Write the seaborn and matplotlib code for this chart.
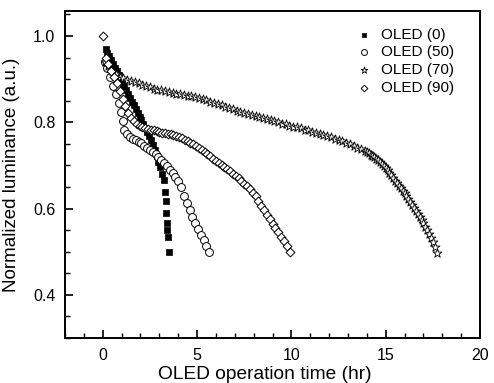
import matplotlib
matplotlib.use("Agg")
import matplotlib.pyplot as plt
import seaborn as sns
import numpy as np
from matplotlib.ticker import MultipleLocator

# OLED (0) - filled squares
t_0 = [0.15, 0.25, 0.35, 0.45, 0.55, 0.65, 0.75, 0.85, 0.95, 1.05,
       1.15, 1.25, 1.35, 1.45, 1.55, 1.65, 1.75, 1.85, 1.95, 2.05,
       2.15, 2.25, 2.35, 2.45, 2.55, 2.65, 2.75, 2.85, 2.95, 3.05,
       3.15, 3.25, 3.30, 3.33, 3.36, 3.40, 3.42, 3.45, 3.50]
lum_0 = [0.970, 0.961, 0.953, 0.944, 0.935, 0.927, 0.918, 0.909, 0.900, 0.892,
         0.883, 0.874, 0.866, 0.857, 0.848, 0.840, 0.831, 0.822, 0.813, 0.805,
         0.796, 0.787, 0.778, 0.769, 0.760, 0.748, 0.735, 0.722, 0.709, 0.696,
         0.680, 0.666, 0.638, 0.617, 0.589, 0.566, 0.550, 0.534, 0.500]

# OLED (50) - open circles
t_50 = [0.10, 0.25, 0.40, 0.55, 0.70, 0.85, 0.95, 1.05, 1.15, 1.30,
        1.45, 1.60, 1.75, 1.90, 2.05, 2.20, 2.35, 2.50, 2.65, 2.80,
        2.95, 3.10, 3.25, 3.40, 3.55, 3.70, 3.85, 4.00, 4.15, 4.30,
        4.45, 4.60, 4.75, 4.90, 5.05, 5.20, 5.35, 5.50, 5.65]
lum_50 = [0.940, 0.925, 0.905, 0.885, 0.865, 0.845, 0.825, 0.802, 0.782, 0.772,
          0.766, 0.762, 0.758, 0.755, 0.751, 0.746, 0.741, 0.736, 0.731, 0.726,
          0.720, 0.713, 0.706, 0.698, 0.690, 0.682, 0.673, 0.664, 0.650, 0.630,
          0.612, 0.596, 0.580, 0.566, 0.552, 0.539, 0.526, 0.513, 0.500]

# OLED (70) - open stars
t_70 = [0.1, 0.3, 0.5, 0.7, 0.9, 1.1, 1.3, 1.5, 1.7, 1.9,
        2.1, 2.3, 2.5, 2.7, 2.9, 3.1, 3.3, 3.5, 3.7, 3.9,
        4.1, 4.3, 4.5, 4.7, 4.9, 5.1, 5.3, 5.5, 5.7, 5.9,
        6.1, 6.3, 6.5, 6.7, 6.9, 7.1, 7.3, 7.5, 7.7, 7.9,
        8.1, 8.3, 8.5, 8.7, 8.9, 9.1, 9.3, 9.5, 9.7, 9.9,
        10.1, 10.3, 10.5, 10.7, 10.9, 11.1, 11.3, 11.5, 11.7, 11.9,
        12.1, 12.3, 12.5, 12.7, 12.9, 13.1, 13.3, 13.5, 13.7, 13.9,
        14.0, 14.1, 14.2, 14.3, 14.4, 14.5, 14.6, 14.7, 14.8, 14.9,
        15.0, 15.1, 15.2, 15.3, 15.4, 15.5, 15.6, 15.7, 15.8, 15.9,
        16.0, 16.1, 16.2, 16.3, 16.4, 16.5, 16.6, 16.7, 16.8, 16.9,
        17.0, 17.1, 17.2, 17.3, 17.4, 17.5, 17.6, 17.7]
lum_70 = [0.940, 0.930, 0.920, 0.912, 0.906, 0.902, 0.899, 0.896, 0.893, 0.890,
          0.887, 0.884, 0.881, 0.878, 0.876, 0.874, 0.872, 0.870, 0.868, 0.866,
          0.865, 0.863, 0.862, 0.860, 0.858, 0.856, 0.854, 0.851, 0.848, 0.845,
          0.842, 0.839, 0.836, 0.833, 0.830, 0.827, 0.824, 0.822, 0.820, 0.817,
          0.815, 0.812, 0.810, 0.807, 0.805, 0.802, 0.800, 0.797, 0.795, 0.792,
          0.790, 0.788, 0.786, 0.783, 0.781, 0.778, 0.776, 0.773, 0.771, 0.768,
          0.765, 0.762, 0.759, 0.756, 0.752, 0.749, 0.745, 0.741, 0.737, 0.733,
          0.731, 0.728, 0.725, 0.722, 0.719, 0.716, 0.712, 0.708, 0.704, 0.699,
          0.694, 0.689, 0.683, 0.677, 0.671, 0.665, 0.659, 0.653, 0.647, 0.641,
          0.635, 0.629, 0.622, 0.616, 0.609, 0.602, 0.595, 0.588, 0.581, 0.574,
          0.566, 0.558, 0.550, 0.541, 0.532, 0.522, 0.511, 0.498]

# OLED (90) - open diamonds
t_90 = [0.00, 0.15, 0.30, 0.45, 0.60, 0.75, 0.90, 1.05, 1.20, 1.35,
        1.50, 1.65, 1.80, 1.95, 2.10, 2.25, 2.40, 2.55, 2.70, 2.85,
        3.00, 3.15, 3.30, 3.45, 3.60, 3.75, 3.90, 4.05, 4.20, 4.35,
        4.50, 4.65, 4.80, 4.95, 5.10, 5.25, 5.40, 5.55, 5.70, 5.85,
        6.00, 6.15, 6.30, 6.45, 6.60, 6.75, 6.90, 7.05, 7.20, 7.35,
        7.50, 7.65, 7.80, 7.95, 8.10, 8.25, 8.40, 8.55, 8.70, 8.85,
        9.00, 9.15, 9.30, 9.45, 9.60, 9.75, 9.95]
lum_90 = [1.000, 0.950, 0.935, 0.920, 0.905, 0.890, 0.872, 0.855, 0.838, 0.822,
          0.810, 0.802, 0.796, 0.792, 0.789, 0.787, 0.785, 0.783, 0.781, 0.779,
          0.778, 0.776, 0.775, 0.773, 0.772, 0.770, 0.768, 0.766, 0.763, 0.760,
          0.757, 0.753, 0.749, 0.745, 0.741, 0.736, 0.731, 0.726, 0.721, 0.716,
          0.711, 0.706, 0.701, 0.696, 0.691, 0.686, 0.681, 0.676, 0.670, 0.664,
          0.658, 0.652, 0.645, 0.637, 0.628, 0.618, 0.607, 0.596, 0.586, 0.575,
          0.565, 0.555, 0.545, 0.535, 0.525, 0.514, 0.500]

series_labels = ["OLED (0)", "OLED (50)", "OLED (70)", "OLED (90)"]

#%%
sns.set_style("ticks")
plt.rcParams['font.family'] = ['Liberation Sans', 'DejaVu Sans']
plt.rcParams['text.color'] = 'black'
plt.rcParams['axes.labelcolor'] = 'black'
plt.rcParams['xtick.color'] = 'black'
plt.rcParams['ytick.color'] = 'black'

fig = plt.figure(figsize=(4.94, 3.83), dpi=100)
ax = fig.add_axes([0.1316, 0.1175, 0.8401, 0.8538])

sns.scatterplot(x=t_0, y=lum_0, marker='s', s=22, color='black',
                edgecolor='black', linewidth=0.5, label=series_labels[0], ax=ax)
sns.scatterplot(x=t_50, y=lum_50, marker='o', s=32, facecolor='white',
                edgecolor='black', linewidth=0.7, label=series_labels[1], ax=ax)
sns.scatterplot(x=t_70, y=lum_70, marker='*', s=45, facecolor='white',
                edgecolor='black', linewidth=0.6, label=series_labels[2], ax=ax)
sns.scatterplot(x=t_90, y=lum_90, marker='D', s=20, facecolor='white',
                edgecolor='black', linewidth=0.7, label=series_labels[3], ax=ax)

ax.set_xlim(-2, 20)
ax.set_ylim(0.3, 1.058)
ax.xaxis.set_major_locator(MultipleLocator(5))
ax.xaxis.set_minor_locator(MultipleLocator(1))
ax.yaxis.set_major_locator(MultipleLocator(0.2))
ax.yaxis.set_minor_locator(MultipleLocator(0.05))
ax.set_yticks([0.4, 0.6, 0.8, 1.0])
ax.set_yticklabels(['0.4', '0.6', '0.8', '1.0'])
ax.tick_params(which='both', direction='in', top=False, right=False,
               color='black', labelcolor='black', labelsize=11.5)
ax.tick_params(which='major', length=6, width=1.2, pad=7)
ax.tick_params(which='minor', length=3.5, width=1.0)
for sp in ax.spines.values():
    sp.set_linewidth(1.4)
    sp.set_color('black')

ax.set_xlabel('OLED operation time (hr)', fontsize=13.8)
ax.set_ylabel('Normalized luminance (a.u.)', fontsize=13.5)
ax.xaxis.set_label_coords(0.481, -0.085)
ax.yaxis.set_label_coords(-0.108, 0.5)

ax.legend(loc='upper right', bbox_to_anchor=(0.952, 0.968), borderaxespad=0,
          frameon=False, fontsize=11, markerscale=0.75, handlelength=1.0,
          handletextpad=0.6, labelspacing=0.25)

fig.savefig('out.png', dpi=100)
